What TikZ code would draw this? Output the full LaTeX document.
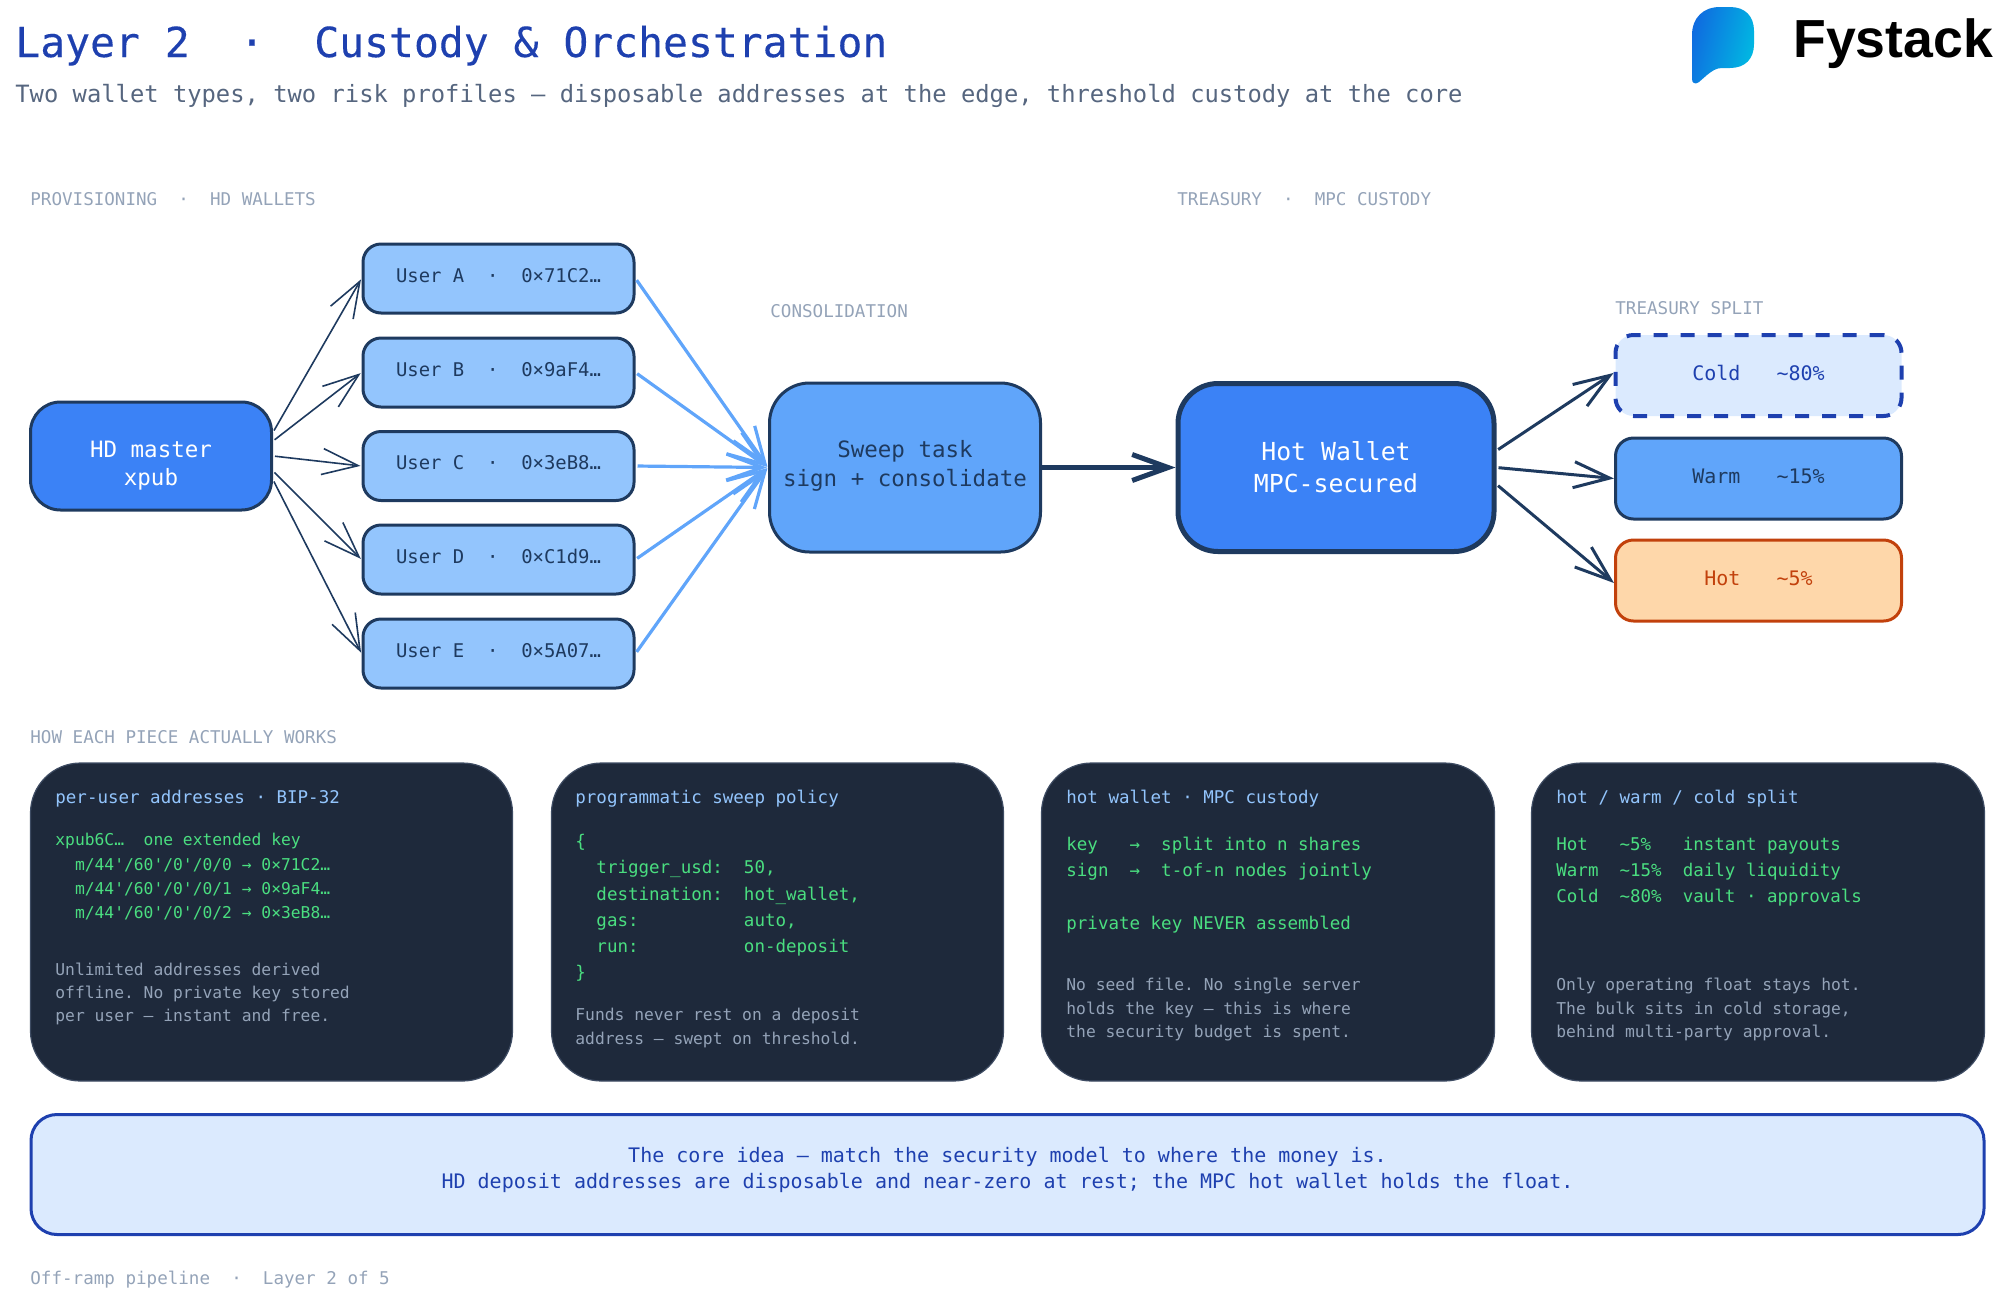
\documentclass[tikz,border=0pt]{standalone}
\usepackage{fontspec}
\setmonofont{DejaVu Sans Mono}
\newfontfamily\titlefont{DejaVu Sans Mono}[FakeBold=0.25]
\newfontfamily\logofont{Liberation Sans}[Scale=1]
\usetikzlibrary{arrows.meta, positioning, calc, shapes.geometric}
\frenchspacing
\definecolor{navy}{HTML}{1E3A5F}
\definecolor{slatecard}{HTML}{1E293B}
\definecolor{cardedge}{HTML}{3E4C63}
\definecolor{mastblue}{HTML}{3B82F6}
\definecolor{midblue}{HTML}{60A5FA}
\definecolor{paleblue}{HTML}{93C5FD}
\definecolor{iceblue}{HTML}{DBEAFE}
\definecolor{deepblue}{HTML}{1E40AF}
\definecolor{peach}{HTML}{FED7AA}
\definecolor{rust}{HTML}{C2410C}
\definecolor{codegreen}{HTML}{4ADE80}
\definecolor{mutegrey}{HTML}{94A3B8}
\definecolor{subgrey}{HTML}{56667F}
\definecolor{logoleft}{HTML}{0F6CE0}
\definecolor{logoright}{HTML}{00BBE2}
\newcommand\tl{\textasciitilde}
\newcommand\fs[2]{\fontsize{#1}{#2}\selectfont}

\begin{document}
\begin{tikzpicture}[x=0.5pt, y=-0.5pt,
    every node/.style={font=\ttfamily, inner sep=0pt},
    >={Straight Barb[length=18pt, width=13pt]},
    section/.style={anchor=base west, text=mutegrey, font=\ttfamily\fs{8.78}{11}},
    userbox/.style={draw=navy, line width=1.5pt, fill=paleblue, rounded corners=9pt, minimum width=135.5pt, minimum height=34.5pt,
        text=navy, font=\ttfamily\fs{9.45}{12}, text height=7.5pt, text depth=4pt},
    splitbox/.style={line width=1.5pt, rounded corners=9pt, minimum width=143pt, minimum height=40.5pt,
        font=\ttfamily\fs{10}{12}, text height=8pt, text depth=3.5pt},
    card/.style={draw=cardedge, line width=0.6pt, fill=slatecard, rounded corners=25pt, minimum height=159pt},
    cardhead/.style={anchor=base west, text=paleblue, font=\ttfamily\fs{8.75}{11}},
    code/.style={anchor=north west, align=left, text=codegreen, execute at begin node={\rule{0pt}{8pt}}},
    note/.style={anchor=north west, align=left, text=mutegrey, font=\ttfamily\fs{8.15}{11.7}, execute at begin node={\rule{0pt}{8pt}}},
    thin arrow/.style={->, navy, line width=0.8pt, shorten >=0.5pt, shorten <=1pt},
    sweep arrow/.style={->, midblue, line width=1.6pt, shorten >=0.5pt, shorten <=1pt},
    split arrow/.style={->, navy, line width=1.5pt, shorten <=1pt}]
    \useasboundingbox (0,0) rectangle (2000,1307);

    %Header
    \node at (15,57) [anchor=base west, text=deepblue, font=\titlefont\fs{20.69}{24}] (title) {Layer 2~~·~~Custody \& Orchestration};
    \node at (15,102) [anchor=base west, text=subgrey, font=\ttfamily\fs{11.9}{14}] (subtitle) {Two wallet types, two risk profiles — disposable addresses at the edge, threshold custody at the core};

    %Logo
    \path[left color=logoleft, right color=logoright, shading angle=75]
        (1692,35) .. controls (1692,18) and (1703,7) .. (1720,7) -- (1730,7)
        .. controls (1745,7) and (1754,16) .. (1754,31) -- (1754,44)
        .. controls (1754,59) and (1745,68) .. (1730,68) -- (1722,68)
        .. controls (1716,68) and (1712,71) .. (1707,75) -- (1699,82)
        .. controls (1695,85) and (1692,83) .. (1692,79) -- cycle;
    \node at (1793,57) [anchor=base west, font=\logofont\bfseries\fs{26.8}{30}] (logoname) {Fystack};

    %Section labels
    \node at (30,205) [section] (provlabel) {PROVISIONING~~·~~HD WALLETS};
    \node at (770,317) [section] (conslabel) {CONSOLIDATION};
    \node at (1177,205) [section] (treslabel) {TREASURY~~·~~MPC CUSTODY};
    \node at (1615,314) [section] (splitlabel) {TREASURY SPLIT};
    \node at (30,743) [section] (howlabel) {HOW EACH PIECE ACTUALLY WORKS};

    %Provisioning
    \node at (151,456) [draw=navy, line width=1.5pt, fill=mastblue, rounded corners=15pt, minimum width=120.5pt, minimum height=54pt,
        text=white, align=center, font=\ttfamily\fs{11.25}{14.2}] (master) {\rule{0pt}{18pt}HD master\\xpub};
    \node at (498.5,278.5) [userbox] (usera) {User A~~·~~0×71C2…};
    \node at (498.5,372.5) [userbox] (userb) {User B~~·~~0×9aF4…};
    \node at (498.5,466) [userbox] (userc) {User C~~·~~0×3eB8…};
    \node at (498.5,559.5) [userbox] (userd) {User D~~·~~0×C1d9…};
    \node at (498.5,653.5) [userbox] (usere) {User E~~·~~0×5A07…};

    %Sweep and treasury
    \node at (905,467.5) [draw=navy, line width=1.5pt, fill=midblue, rounded corners=20pt, minimum width=135.5pt, minimum height=84.5pt,
        text=navy, align=center, font=\ttfamily\fs{11.25}{14.2}] (sweep) {Sweep task\\sign + consolidate\rule[-4pt]{0pt}{4pt}};
    \node at (1336,467.5) [draw=navy, line width=2.5pt, fill=mastblue, rounded corners=20pt, minimum width=158pt, minimum height=84pt,
        text=white, align=center, font=\ttfamily\fs{12.4}{16}] (hot) {Hot Wallet\\MPC-secured};

    \node at (1758.5,375.5) [splitbox, draw=deepblue, line width=2pt, dash pattern=on 7pt off 6.5pt, fill=iceblue, text=deepblue] (coldsplit) {Cold~~~\tl80\%};
    \node at (1758.5,478.5) [splitbox, draw=navy, fill=midblue, text=navy] (warmsplit) {Warm~~~\tl15\%};
    \node at (1758.5,580.5) [splitbox, draw=rust, fill=peach, text=rust] (hotsplit) {Hot~~~\tl5\%};

    \draw[thin arrow] (master.11) -- (usera.west);
    \draw[thin arrow] (master.7) -- (userb.west);
    \draw[thin arrow] (master.0) -- (userc.west);
    \draw[thin arrow] (master.-7) -- (userd.west);
    \draw[thin arrow] (master.-11) -- (usere.west);

    \draw[sweep arrow] (usera.east) -- (sweep.west);
    \draw[sweep arrow] (userb.east) -- (sweep.west);
    \draw[sweep arrow] (userc.east) -- (sweep.west);
    \draw[sweep arrow] (userd.east) -- (sweep.west);
    \draw[sweep arrow] (usere.east) -- (sweep.west);

    \draw[->, navy, line width=2.5pt] (sweep.east) -- (hot.west);

    \draw[split arrow] (hot.6) -- (coldsplit.179);
    \draw[split arrow] (hot.0) -- (warmsplit.west);
    \draw[split arrow] (hot.-6) -- (hotsplit.-179);

    %Cards
    \node at (271.5,922) [card, minimum width=241pt] (card1) {};
    \node at (777.5,922) [card, minimum width=226pt] (card2) {};
    \node at (1268,922) [card, minimum width=226.5pt] (card3) {};
    \node at (1758,922) [card, minimum width=226.5pt] (card4) {};

    \node at (55,803) [cardhead] (head1) {per-user addresses · BIP-32};
    \node at (55,833) [code, font=\ttfamily\fs{8.15}{12.15}] (code1) {xpub6C…~~one extended key\\~~m/44'/60'/0'/0/0 → 0×71C2…\\~~m/44'/60'/0'/0/1 → 0×9aF4…\\~~m/44'/60'/0'/0/2 → 0×3eB8…};
    \node at (55,963) [note, font=\ttfamily\fs{8.15}{11.5}] (note1) {Unlimited addresses derived\\offline. No private key stored\\per user — instant and free.};

    \node at (575,803) [cardhead] (head2) {programmatic sweep policy};
    \node at (575,834) [code, font=\ttfamily\fs{8.75}{13.1}] (code2) {\{\\~~trigger\_usd:~~50,\\~~destination:~~hot\_wallet,\\~~gas:~~~~~~~~~~auto,\\~~run:~~~~~~~~~~on-deposit\\\}};
    \node at (575,1008) [note] (note2) {Funds never rest on a deposit\\address — swept on threshold.};

    \node at (1066,803) [cardhead] (head3) {hot wallet · MPC custody};
    \node at (1066,837) [code, font=\ttfamily\fs{8.75}{13.05}] (code3) {key~~~→~~split into n shares\\sign~~→~~t-of-n nodes jointly\\~\\private key NEVER assembled};
    \node at (1066,978) [note] (note3) {No seed file. No single server\\holds the key — this is where\\the security budget is spent.};

    \node at (1556,803) [cardhead] (head4) {hot / warm / cold split};
    \node at (1556,837) [code, font=\ttfamily\fs{8.75}{13.05}] (code4) {Hot~~~\tl5\%~~~instant payouts\\Warm~~\tl15\%~~daily liquidity\\Cold~~\tl80\%~~vault · approvals};
    \node at (1556,978) [note] (note4) {Only operating float stays hot.\\The bulk sits in cold storage,\\behind multi-party approval.};

    %Callout
    \node at (1007.5,1174.5) [draw=deepblue, line width=1.5pt, fill=iceblue, rounded corners=13pt, minimum width=976.5pt, minimum height=60pt,
        text=deepblue, align=center, font=\ttfamily\fs{10}{13}] (callout) {The core idea — match the security model to where the money is.\\HD deposit addresses are disposable and near-zero at rest; the MPC hot wallet holds the float.\rule[-7pt]{0pt}{7pt}};

    \node at (30,1284) [section] (footer) {Off-ramp pipeline~~·~~Layer 2 of 5};
\end{tikzpicture}
\end{document}
